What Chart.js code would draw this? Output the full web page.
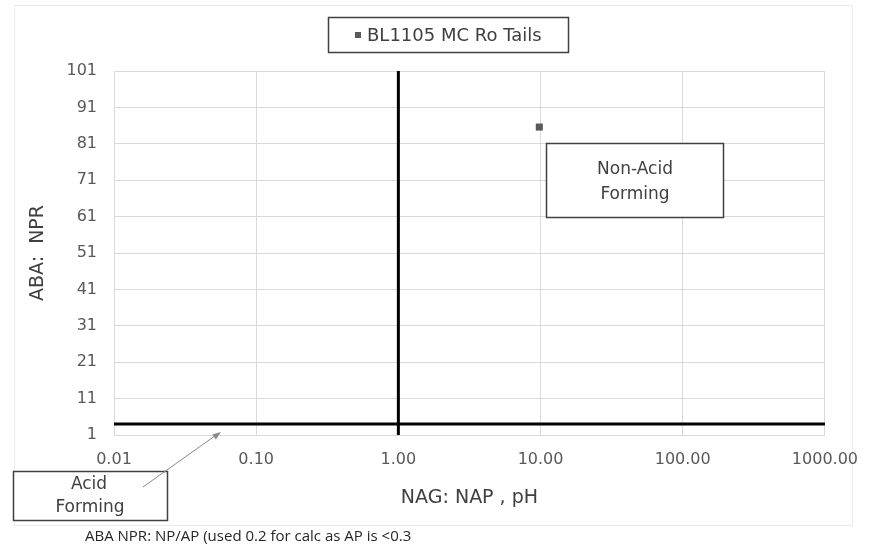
<!DOCTYPE html>
<html>
<head>
<meta charset="utf-8">
<script src="https://cdn.jsdelivr.net/npm/chart.js@4.4.0/dist/chart.umd.min.js"></script>
<style>
  html, body { margin: 0; padding: 0; background: #ffffff; }
  #wrap { width: 873px; height: 554px; position: relative; }
</style>
</head>
<body>
<div id="wrap"><canvas id="c" width="873" height="554"></canvas></div>
<script>
// ---- data ----
const seriesLabel = "BL1105 MC Ro Tails";
const seriesX = [9.8];
const seriesY = [85.6];
const xTickValues = [0.01, 0.1, 1, 10, 100, 1000];
const yTickValues = [1, 11, 21, 31, 41, 51, 61, 71, 81, 91, 101];
const vLineX = [1, 1];
const vLineY = [1, 101];
const hLineX = [0.01, 1000];
const hLineY = [4, 4];
const xTitle = "NAG: NAP , pH";
const yTitle = "ABA:  NPR";
const nonAcidText = ["Non-Acid", "Forming"];
const acidText = ["Acid", "Forming"];
const footnote = "ABA NPR: NP/AP (used 0.2 for calc as AP is <0.3";

const toPts = (xs, ys) => xs.map((x, i) => ({ x: x, y: ys[i] }));

const FONT = "'DejaVu Sans', sans-serif";

const decorPlugin = {
  id: 'decor',
  beforeDraw(chart) {
    const ctx = chart.ctx;
    ctx.save();
    ctx.fillStyle = '#ffffff';
    ctx.fillRect(0, 0, chart.width, chart.height);
    ctx.strokeStyle = '#ececec';
    ctx.lineWidth = 1;
    ctx.strokeRect(14.5, 5.5, 838, 520);
    ctx.restore();
  },
  afterDraw(chart) {
    const ctx = chart.ctx;
    ctx.save();
    // legend box
    ctx.strokeStyle = '#404040';
    ctx.lineWidth = 1.5;
    ctx.strokeRect(328.5, 17.5, 240, 35);
    ctx.fillStyle = '#595959';
    ctx.fillRect(355, 32, 6, 6);
    ctx.font = "18px " + FONT;
    ctx.fillStyle = '#404040';
    ctx.textBaseline = 'middle';
    ctx.textAlign = 'left';
    ctx.fillText(seriesLabel, 367, 36);

    // Non-Acid Forming box
    ctx.fillStyle = '#ffffff';
    ctx.fillRect(546, 143, 177, 74);
    ctx.strokeStyle = '#404040';
    ctx.lineWidth = 1.5;
    ctx.strokeRect(546.5, 143.5, 177, 74);
    ctx.fillStyle = '#404040';
    ctx.font = "17px " + FONT;
    ctx.textAlign = 'center';
    ctx.fillText(nonAcidText[0], 635, 170);
    ctx.fillText(nonAcidText[1], 635, 195);

    // Acid Forming box
    ctx.fillStyle = '#ffffff';
    ctx.fillRect(13, 471, 154, 49);
    ctx.strokeStyle = '#404040';
    ctx.strokeRect(13.5, 471.5, 154, 49);
    ctx.fillStyle = '#404040';
    ctx.fillText(acidText[0], 89, 485);
    ctx.fillText(acidText[1], 90, 508);

    // arrow
    ctx.strokeStyle = '#8a8a8a';
    ctx.lineWidth = 1;
    ctx.beginPath();
    ctx.moveTo(143, 487);
    ctx.lineTo(219, 433);
    ctx.stroke();
    const ang = Math.atan2(433 - 487, 219 - 143);
    ctx.fillStyle = '#8a8a8a';
    ctx.beginPath();
    ctx.moveTo(221, 432);
    ctx.lineTo(221 - 9 * Math.cos(ang - 0.35), 432 - 9 * Math.sin(ang - 0.35));
    ctx.lineTo(221 - 9 * Math.cos(ang + 0.35), 432 - 9 * Math.sin(ang + 0.35));
    ctx.closePath();
    ctx.fill();

    // footnote
    ctx.font = "15px 'Open Sans', sans-serif";
    ctx.fillStyle = '#262626';
    ctx.textAlign = 'left';
    ctx.fillText(footnote, 85, 537);
    ctx.restore();
  }
};

new Chart(document.getElementById('c'), {
  type: 'scatter',
  data: {
    datasets: [
      {
        label: seriesLabel,
        data: toPts(seriesX, seriesY),
        pointStyle: 'rect',
        pointRadius: 5,
        backgroundColor: '#595959',
        borderColor: '#595959',
        borderWidth: 0
      },
      {
        label: 'vline',
        data: toPts(vLineX, vLineY),
        showLine: true,
        borderColor: '#000000',
        borderWidth: 3,
        pointRadius: 0
      },
      {
        label: 'hline',
        data: toPts(hLineX, hLineY),
        showLine: true,
        borderColor: '#000000',
        borderWidth: 3,
        pointRadius: 0
      }
    ]
  },
  options: {
    responsive: false,
    animation: false,
    layout: { padding: { left: 0, right: 14, top: 71, bottom: 0 } },
    plugins: {
      legend: { display: false },
      tooltip: { enabled: false }
    },
    scales: {
      x: {
        type: 'logarithmic',
        min: 0.01,
        max: 1000,
        afterBuildTicks: (s) => { s.ticks = xTickValues.map(v => ({ value: v })); },
        afterFit: (s) => { s.height = 554 - 435; },
        grid: { color: '#d9d9d9', drawTicks: false },
        border: { color: '#d9d9d9' },
        ticks: {
          padding: 15,
          color: '#595959',
          font: { family: FONT, size: 16 },
          maxRotation: 0,
          autoSkip: false,
          callback: (v) => Number(v).toFixed(2)
        },
        title: {
          display: true,
          text: xTitle,
          color: '#404040',
          font: { family: FONT, size: 19 },
          padding: 45
        }
      },
      y: {
        type: 'linear',
        min: 1,
        max: 101,
        afterBuildTicks: (s) => { s.ticks = yTickValues.map(v => ({ value: v })); },
        afterFit: (s) => { s.width = 114; },
        grid: { color: '#d9d9d9', drawTicks: false },
        border: { color: '#d9d9d9' },
        ticks: {
          padding: 17,
          color: '#595959',
          font: { family: FONT, size: 16 },
          autoSkip: false
        },
        title: {
          display: true,
          text: yTitle,
          color: '#404040',
          font: { family: FONT, size: 19 },
          padding: 27
        }
      }
    }
  },
  plugins: [decorPlugin]
});
</script>
</body>
</html>
